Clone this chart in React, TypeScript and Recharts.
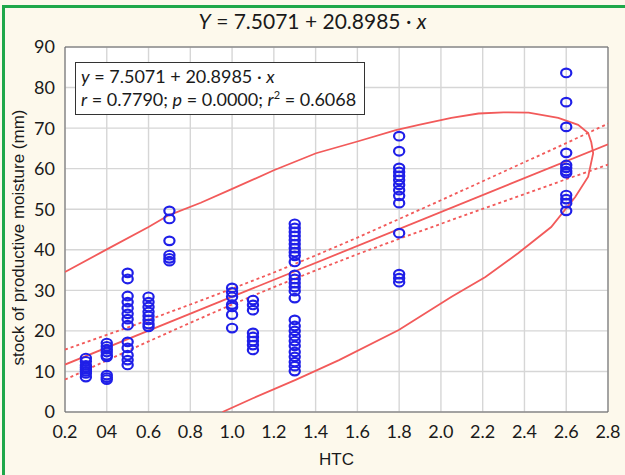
import React from 'react';
import { ScatterChart, Scatter, XAxis, YAxis, CartesianGrid, ReferenceLine } from 'recharts';

// HTC groups and the moisture readings seen at each one
const htcValues = [0.3, 0.4, 0.5, 0.6, 0.7, 1.0, 1.1, 1.3, 1.8, 2.6];
const moistureAt03 = [13.3, 12.5, 11.5, 11, 10.5, 10, 9.5, 8.6];
const moistureAt04 = [17, 16.2, 15.5, 14.8, 14, 13.6, 9.1, 8.5, 8];
const moistureAt05 = [34.3, 32.8, 28.6, 27.1, 25.6, 24.2, 22.9, 21.4, 17.3, 15.8, 14, 12.8, 11.6];
const moistureAt06 = [28.4, 27.1, 25.9, 24.7, 23.7, 22.7, 21.7, 21];
const moistureAt07 = [49.6, 47.6, 42.2, 38.7, 37.9, 37.2];
const moistureAt10 = [30.6, 29.5, 28.4, 26.5, 25.9, 24, 20.7];
const moistureAt11 = [27.6, 26.4, 25.1, 19.5, 18.5, 17.5, 16.5, 15.3];
const moistureAt13 = [46.4, 45.4, 44.4, 43.4, 42.4, 41.4, 40.4, 39.4, 38.5, 37, 33.8, 32.8, 31.8, 30.8, 29.8, 28.1, 22.7, 21.2, 20, 18.7, 17.5, 16.3, 14.8, 13.6, 12.3, 11.3, 10.1];
const moistureAt18 = [68, 64.3, 60.2, 59.2, 58.2, 57.2, 56, 54.7, 53.3, 51.5, 44.1, 34, 33, 32];
const moistureAt26 = [83.6, 76.4, 70.3, 63.9, 60.9, 60.2, 59.4, 58.9, 53.5, 52.5, 51.5, 49.6];
const moistureGroups = [moistureAt03, moistureAt04, moistureAt05, moistureAt06, moistureAt07, moistureAt10, moistureAt11, moistureAt13, moistureAt18, moistureAt26];

// fitted line and its 95% band
const fitX = [0.2, 2.8];
const fitY = [11.69, 66.02];
const bandX = [0.2, 0.4, 0.6, 0.8, 1.0, 1.2, 1.4, 1.6, 1.8, 2.0, 2.2, 2.4, 2.6, 2.8];
const bandUpper = [15.4, 19.0, 22.7, 26.5, 30.4, 34.4, 38.6, 43.0, 47.6, 52.2, 56.9, 61.6, 66.3, 71.1];
const bandLower = [8.0, 12.7, 17.4, 22.0, 26.5, 30.8, 34.9, 38.9, 42.7, 46.4, 50.1, 53.7, 57.4, 61.0];

// visible part of the ellipse, lower branch first
const ellipseX = [0.954, 1.1, 1.307, 1.512, 1.798, 2.051, 2.213, 2.371, 2.528, 2.643, 2.705, 2.729, 2.72, 2.705, 2.657, 2.562, 2.42, 2.3, 2.18, 2.05, 1.894, 1.784, 1.6, 1.402, 1.2, 0.987, 0.85, 0.696, 0.6, 0.4, 0.2];
const ellipseY = [0, 3.4, 8, 12.8, 20.2, 28.4, 33.3, 39.2, 45.6, 53, 58, 63.8, 66.5, 68.8, 70.8, 72.5, 73.8, 73.9, 73.6, 72.5, 70.8, 69.5, 66.7, 63.8, 59.6, 54.7, 51.6, 48.5, 45.6, 40.1, 34.5];

const xTicks = [0.2, 0.4, 0.6, 0.8, 1.0, 1.2, 1.4, 1.6, 1.8, 2.0, 2.2, 2.4, 2.6, 2.8];
const xTickLabels = ['0.2', '04', '0.6', '0.8', '1.0', '1.2', '1.4', '1.6', '1.8', '2.0', '2.2', '2.4', '2.6', '2.8'];
const yTicks = [0, 10, 20, 30, 40, 50, 60, 70, 80, 90];

const points = htcValues.flatMap((x, i) => moistureGroups[i].map(y => ({ x, y })));
const fitLine = fitX.map((x, i) => ({ x, y: fitY[i] }));
const upperBand = bandX.map((x, i) => ({ x, y: bandUpper[i] }));
const lowerBand = bandX.map((x, i) => ({ x, y: bandLower[i] }));
const ellipse = ellipseX.map((x, i) => ({ x, y: ellipseY[i] }));

const RED = '#f25a5a';
const BLUE = '#1f1fe8';
const tickFont = { fontSize: 18, fill: '#1a1a1a', fontFamily: 'Lato, "Open Sans", sans-serif' };

const Ring = (props: any) => (
  <ellipse cx={props.cx} cy={props.cy} rx={5.1} ry={4.3} fill="none" stroke={BLUE} strokeWidth={2.2} />
);
const NoDot = () => <g />;

const YTitle = (props: any) => {
  const vb = props.viewBox;
  const cx = 18;
  const cy = vb.y + vb.height / 2 + 8;
  return (
    <text x={cx} y={cy} transform={`rotate(-90, ${cx}, ${cy})`} textAnchor="middle" dominantBaseline="central"
      fontSize={17} fontFamily='"Liberation Sans", Arial, sans-serif' fill="#1a1a1a">
      stock of productive moisture (mm)
    </text>
  );
};

export default function App() {
  return (
    <div style={{ position: 'absolute', left: 0, top: 0, width: 625, height: 475, background: '#fdf9ec', overflow: 'hidden' }}>
      <div style={{ position: 'absolute', left: 2, top: 5, width: 700, height: 600, borderLeft: '3px solid #1fa84a', borderTop: '3px solid #1fa84a' }} />
      <div style={{ position: 'absolute', left: 0, top: 0 }}>
        <ScatterChart width={625} height={475} margin={{ top: 47, right: 17, bottom: 5, left: 0 }}>
          <CartesianGrid stroke="#d6d6d6" strokeWidth={1.4} fill="#ffffff" />
          <XAxis type="number" dataKey="x" domain={[0.2, 2.8]} ticks={xTicks} interval={0}
            tickFormatter={(v: number) => xTickLabels[xTicks.findIndex(t => Math.abs(t - v) < 1e-6)] ?? ''}
            tick={tickFont} tickLine={false} tickSize={6} tickMargin={7} height={58}
            axisLine={{ stroke: '#666' }} allowDataOverflow
            label={{ value: 'HTC', position: 'insideBottom', offset: 5, fontSize: 17, fill: '#1a1a1a', fontFamily: '"Liberation Sans", Arial, sans-serif' }} />
          <YAxis type="number" dataKey="y" domain={[0, 90]} ticks={yTicks} interval={0}
            tick={tickFont} tickLine={false} tickSize={6} tickMargin={4} width={65}
            axisLine={{ stroke: '#666' }} allowDataOverflow label={<YTitle />} />
          <ReferenceLine y={90} stroke="#666" />
          <ReferenceLine x={2.8} stroke="#666" />
          <Scatter data={ellipse} fill={RED} line={{ stroke: RED, strokeWidth: 1.8 }} shape={NoDot} isAnimationActive={false} />
          <Scatter data={upperBand} fill={RED} line={{ stroke: RED, strokeWidth: 1.8, strokeDasharray: '3 3' }} shape={NoDot} isAnimationActive={false} />
          <Scatter data={lowerBand} fill={RED} line={{ stroke: RED, strokeWidth: 1.8, strokeDasharray: '3 3' }} shape={NoDot} isAnimationActive={false} />
          <Scatter data={fitLine} fill={RED} line={{ stroke: RED, strokeWidth: 1.8 }} shape={NoDot} isAnimationActive={false} />
          <Scatter data={points} fill={BLUE} shape={Ring} isAnimationActive={false} />
        </ScatterChart>
      </div>
      <div style={{ position: 'absolute', left: 0, top: 8, width: 625, textAlign: 'center', fontFamily: 'Lato, "Open Sans", sans-serif', fontSize: 21, color: '#1a1a1a', lineHeight: '26px' }}>
        <i>Y</i> = 7.5071 + 20.8985 · <i>x</i>
      </div>
      <div style={{ position: 'absolute', left: 75, top: 62, width: 290, height: 53, background: '#fff', border: '1.5px solid #333', fontFamily: 'Lato, "Open Sans", sans-serif', fontSize: 18, color: '#1a1a1a', lineHeight: '23px', paddingLeft: 5, boxSizing: 'border-box', paddingTop: 2, whiteSpace: 'nowrap' }}>
        <div><i>y</i> = 7.5071 + 20.8985 · <i>x</i></div>
        <div><i>r</i> = 0.7790; <i>p</i> = 0.0000; <i>r</i><sup style={{ fontSize: 11, lineHeight: 0 }}>2</sup> = 0.6068</div>
      </div>
    </div>
  );
}
